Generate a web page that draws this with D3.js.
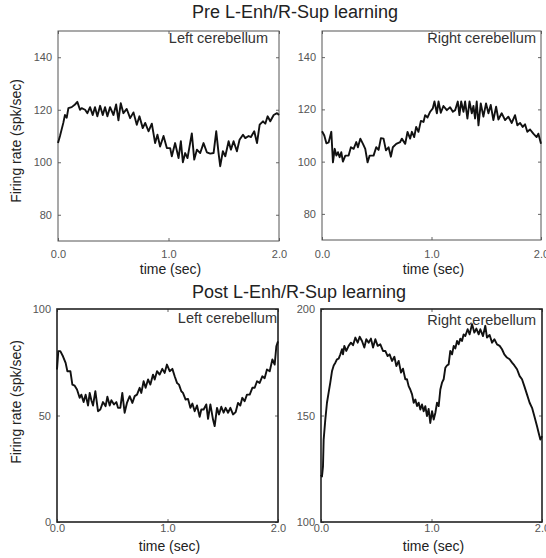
<!DOCTYPE html>
<html>
<head>
<meta charset="utf-8">
<script src="https://cdn.jsdelivr.net/npm/d3@7"></script>
<style>
  body { margin: 0; background: #fff; }
  svg { display: block; }
  text { font-family: "Liberation Sans", Arial, sans-serif; }
</style>
</head>
<body>
<svg id="chart" width="546" height="558"></svg>
<script>
// titles and labels
const rowTitles = ["Pre L-Enh/R-Sup learning", "Post L-Enh/R-Sup learning"];
const panelNames = ["Left cerebellum", "Right cerebellum", "Left cerebellum", "Right cerebellum"];
const xLabel = "time (sec)";
const yLabel = "Firing rate (spk/sec)";

// ticks
const timeTicks = [0, 1, 2];
const preTicks = [80, 100, 120, 140];
const postLeftTicks = [0, 50, 100];
const postRightTicks = [100, 150, 200];

// Pre learning, left cerebellum
const preLeftTime = [0.0,0.018,0.048,0.063,0.079,0.094,0.124,0.154,0.175,0.199,0.214,0.245,0.266,0.290,0.314,0.335,0.356,0.381,0.405,0.426,0.447,0.471,0.502,0.526,0.547,0.568,0.592,0.622,0.653,0.683,0.713,0.737,0.767,0.789,0.819,0.849,0.879,0.900,0.924,0.955,0.985,1.015,1.030,1.060,1.091,1.112,1.130,1.151,1.172,1.211,1.233,1.257,1.287,1.317,1.347,1.378,1.408,1.432,1.453,1.468,1.492,1.514,1.544,1.565,1.589,1.619,1.643,1.674,1.695,1.725,1.746,1.776,1.801,1.825,1.855,1.876,1.897,1.921,1.952,1.982,2.0];
const preLeftRate = [107.3,110,115,118,117,120.6,121,122,123,120,120.6,120,118.7,121,118,121,117.5,121.5,118,121,117.5,121,118,122,116,122.5,118.7,120.3,116.8,119,114.3,117.5,113,115,111.8,114.7,107.3,110.5,106,110,105.4,105.4,102.3,107.3,101.6,108,100,103.5,101.6,111,101,104.8,103.5,107.3,103.8,103.3,103.5,111.8,103.5,98.5,104.2,102.3,108,104.8,108,104.2,108.6,110.5,109.2,110,109.6,111.8,107.3,114.3,115.6,114.7,117.5,115.6,118,118.7,118];

// Pre learning, right cerebellum
const preRightTime = [0,0.021,0.040,0.061,0.085,0.100,0.116,0.131,0.146,0.161,0.176,0.191,0.213,0.243,0.264,0.289,0.313,0.328,0.350,0.374,0.395,0.416,0.435,0.471,0.495,0.517,0.538,0.562,0.584,0.608,0.629,0.647,0.678,0.714,0.729,0.760,0.781,0.805,0.821,0.842,0.860,0.881,0.903,0.927,0.942,0.964,0.988,1.012,1.027,1.049,1.064,1.085,1.109,1.140,1.170,1.195,1.216,1.240,1.255,1.271,1.292,1.307,1.328,1.347,1.368,1.383,1.398,1.413,1.429,1.450,1.474,1.498,1.520,1.541,1.565,1.590,1.611,1.641,1.672,1.702,1.733,1.763,1.784,1.809,1.833,1.854,1.875,1.900,1.930,1.960,1.976,2.0];
const preRightRate = [111.6,110,107,107.4,111.4,99.7,104.9,102.3,103.6,101.7,103.6,100,102.3,102.3,105.5,104.9,107.5,105.5,108.8,106.8,104.9,99.7,102.3,102.3,105.5,104.5,109,108.8,104.3,105.5,101.9,105.5,106.8,107.5,108.8,106.8,111.4,108.8,111.4,109.4,113.3,111.4,115.6,115.2,117.8,116.9,119.1,120.4,123,118.5,123,118.7,121.3,119.7,120.8,119.1,119.7,123,117.8,123,119.1,123,116.5,123,118.5,121.3,116.5,123,113.9,122.3,117.2,122.3,118.5,121.7,115.9,121,116.1,118.5,115.9,117.2,114.8,117.8,113.9,114.8,113.3,114.3,111.4,112.3,110.7,109.4,110.7,106.8];

// Post learning, left cerebellum
const postLeftTime = [0,0.012,0.030,0.054,0.078,0.094,0.121,0.139,0.160,0.181,0.205,0.220,0.241,0.259,0.281,0.296,0.311,0.326,0.347,0.371,0.392,0.416,0.440,0.456,0.477,0.492,0.516,0.537,0.552,0.573,0.591,0.612,0.633,0.658,0.682,0.703,0.724,0.748,0.763,0.784,0.802,0.824,0.845,0.869,0.884,0.905,0.929,0.953,0.974,0.995,1.020,1.044,1.065,1.086,1.104,1.125,1.140,1.164,1.186,1.207,1.225,1.246,1.267,1.291,1.306,1.327,1.351,1.367,1.388,1.412,1.427,1.448,1.466,1.487,1.508,1.526,1.548,1.569,1.593,1.617,1.638,1.659,1.677,1.698,1.719,1.744,1.768,1.789,1.810,1.834,1.858,1.879,1.900,1.925,1.949,1.970,1.985,2.0];
const postLeftRate = [71.6,80.2,80.2,77.8,74.7,70.8,70.8,64.5,64,62.2,58.3,59.8,56.3,59.8,54.7,60.6,57.2,54.7,61.4,52,52.8,56.3,54.4,58.8,54.7,57.2,55.2,56.3,53.6,53.6,60.6,51.3,55.9,59.1,55.9,59.1,59.8,63,60.6,66.1,63,66.9,64.5,69.2,66.9,70.8,69.2,71.9,70,73.9,70.8,71.9,68.4,65.3,64.5,61.4,60.6,57.5,57.8,53.6,55.6,52,54.7,49.4,52.8,52.8,55.2,48.4,55.2,48.1,45,53.6,50.5,54.1,51.3,53.6,51.3,53.6,50.5,51.6,55.9,54.7,58.3,56.7,59.8,59.8,63,63,66.1,65.3,68.4,67.5,71.6,70.8,76.3,73.9,82.5,84.8];

// Post learning, right cerebellum
const postRightTime = [0,0.009,0.018,0.024,0.039,0.054,0.069,0.084,0.100,0.115,0.130,0.145,0.160,0.175,0.190,0.199,0.211,0.229,0.250,0.271,0.290,0.311,0.332,0.350,0.371,0.392,0.410,0.431,0.452,0.471,0.492,0.513,0.537,0.561,0.582,0.603,0.621,0.643,0.664,0.682,0.703,0.724,0.742,0.763,0.778,0.793,0.808,0.824,0.839,0.854,0.869,0.884,0.899,0.914,0.929,0.944,0.959,0.974,0.989,1.005,1.020,1.035,1.050,1.065,1.080,1.095,1.110,1.125,1.140,1.155,1.170,1.186,1.201,1.216,1.231,1.246,1.261,1.276,1.291,1.306,1.327,1.345,1.367,1.388,1.406,1.427,1.442,1.466,1.487,1.502,1.526,1.548,1.569,1.593,1.617,1.638,1.659,1.683,1.707,1.729,1.750,1.774,1.798,1.819,1.840,1.864,1.888,1.910,1.931,1.955,1.970,1.985,2.0];
const postRightRate = [122.2,121.4,126.1,138.7,148.1,156,160.7,165.4,170.9,173.5,174.8,176.4,176.7,178.7,181.1,178.7,182.7,180.3,182.7,184.2,183,186.6,184.2,187,185,181.9,185.8,184.2,186.1,181.9,185.8,182.7,183.4,180.3,180.3,177.9,178.7,175.6,177.6,173.2,175.6,170.1,172,167,167,163.8,162.2,159.9,156,157.5,154.4,156,152.8,155.2,152,154.4,149.7,153.1,146.5,152,148.1,151.3,156,154.4,162.2,165.4,167,172.4,173.5,174,180.3,178.7,182.7,181.5,185,183.4,186.1,185,188.1,187.3,190.5,188.1,192.9,188.9,190.8,188.1,190.5,187.3,192.1,186.6,187.8,184.2,185.8,183.4,182.7,181.1,178.7,177.2,176.4,174.8,173.5,171.7,168.5,167,163.8,159.9,156,153.6,149.7,145,141.8,138.7,140.3];

// layout of the four boxes (left, top, right, bottom in px)
const panels = [
  { box: [58, 31, 279, 241], yDomain: [70, 150], yTicks: preTicks, t: preLeftTime, v: preLeftRate, name: panelNames[0], nameX: 268, nameY: 43, xLabelPad: 9, xTitleY: 274, frame: "#555", frameW: 1 },
  { box: [322, 31, 541, 240], yDomain: [70, 150], yTicks: preTicks, t: preRightTime, v: preRightRate, name: panelNames[1], nameX: 536, nameY: 43, xLabelPad: 10, xTitleY: 274, frame: "#555", frameW: 1 },
  { box: [57, 309, 278, 522], yDomain: [0, 100], yTicks: postLeftTicks, t: postLeftTime, v: postLeftRate, name: panelNames[2], nameX: 277, nameY: 323, xLabelPad: 2, xTitleY: 551, frame: "#222", frameW: 1.6 },
  { box: [321, 309, 542, 522], yDomain: [100, 200], yTicks: postRightTicks, t: postRightTime, v: postRightRate, name: panelNames[3], nameX: 536, nameY: 325, xLabelPad: 2, xTitleY: 551, frame: "#222", frameW: 1.6 }
];

const svg = d3.select("#chart");

// row titles
svg.append("text").attr("x", 295).attr("y", 18)
  .attr("text-anchor", "middle").attr("font-size", 18).attr("fill", "#222")
  .text(rowTitles[0]);
svg.append("text").attr("x", 299).attr("y", 298)
  .attr("text-anchor", "middle").attr("font-size", 18).attr("fill", "#222")
  .text(rowTitles[1]);

// y axis titles, one per row
[141, 402].forEach(cy => {
  svg.append("text")
    .attr("transform", `translate(21,${cy}) rotate(-90)`)
    .attr("text-anchor", "middle").attr("font-size", 14).attr("fill", "#222")
    .text(yLabel);
});

panels.forEach(p => {
  const [l, t, r, b] = p.box;
  const x = d3.scaleLinear().domain([0, 2]).range([l, r]);
  const y = d3.scaleLinear().domain(p.yDomain).range([b, t]);
  const g = svg.append("g");

  // ticks point inward, matlab style
  const gy = g.append("g").attr("transform", `translate(${l},0)`)
    .call(d3.axisLeft(y).tickValues(p.yTicks).tickSizeInner(-3).tickSizeOuter(0).tickPadding(6));
  const gyr = g.append("g").attr("transform", `translate(${r},0)`)
    .call(d3.axisRight(y).tickValues(p.yTicks).tickSizeInner(-3).tickSizeOuter(0).tickFormat(""));
  const gx = g.append("g").attr("transform", `translate(0,${b})`)
    .call(d3.axisBottom(x).tickValues(timeTicks).tickSizeInner(-3).tickSizeOuter(0)
      .tickPadding(p.xLabelPad).tickFormat(d3.format(".1f")));
  const gxt = g.append("g").attr("transform", `translate(0,${t})`)
    .call(d3.axisTop(x).tickValues(timeTicks).tickSizeInner(-3).tickSizeOuter(0).tickFormat(""));

  [gy, gyr, gx, gxt].forEach(a => {
    a.select(".domain").remove();
    a.selectAll("line").attr("stroke", "#666");
    a.selectAll("text").attr("font-size", 11).attr("fill", "#555")
      .attr("font-family", '"Liberation Sans", Arial, sans-serif');
  });

  // box
  g.append("rect").attr("x", l).attr("y", t).attr("width", r - l).attr("height", b - t)
    .attr("fill", "none").attr("stroke", p.frame).attr("stroke-width", p.frameW);

  // trace
  const pts = d3.zip(p.t, p.v);
  g.append("path").datum(pts)
    .attr("fill", "none").attr("stroke", "#111").attr("stroke-width", 1.9)
    .attr("stroke-linejoin", "round")
    .attr("d", d3.line().x(d => x(d[0])).y(d => y(d[1])));

  // panel name
  g.append("text").attr("x", p.nameX).attr("y", p.nameY)
    .attr("text-anchor", "end").attr("font-size", 14.5).attr("fill", "#333")
    .text(p.name);

  // x title
  g.append("text").attr("x", (l + r) / 2 + 2).attr("y", p.xTitleY)
    .attr("text-anchor", "middle").attr("font-size", 14).attr("fill", "#222")
    .text(xLabel);
});
</script>
</body>
</html>
